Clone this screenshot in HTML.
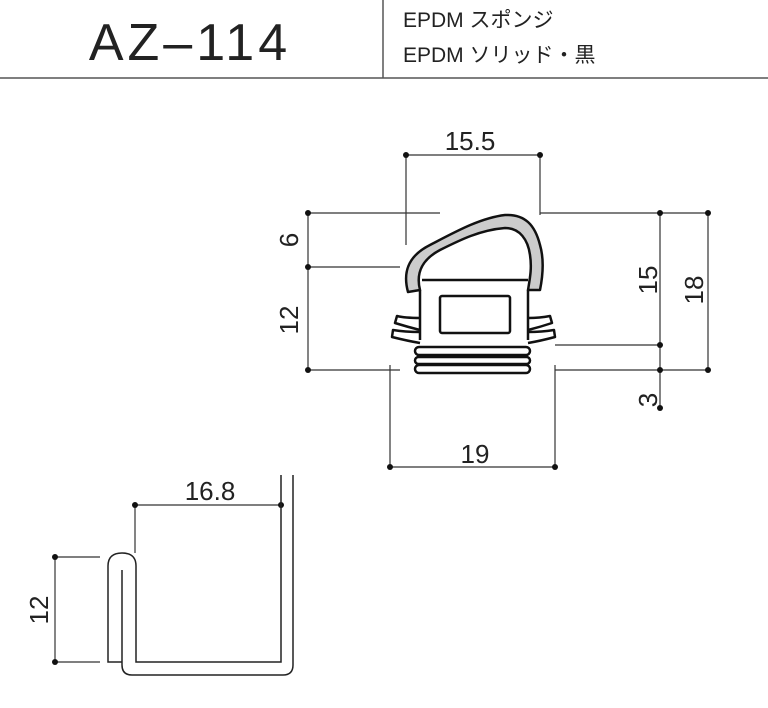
<!DOCTYPE html>
<html><head><meta charset="utf-8"><style>
body{margin:0;background:#fff;}
svg{display:block}
text{font-family:"Liberation Sans","Noto Sans CJK JP",sans-serif;fill:#222}
</style></head><body>
<svg width="768" height="708" viewBox="0 0 768 708" xmlns="http://www.w3.org/2000/svg">
<line x1="0" y1="78" x2="768" y2="78" stroke="#555" stroke-width="1.5"/>
<line x1="383" y1="0" x2="383" y2="78" stroke="#555" stroke-width="1.5"/>
<text x="190" y="60" font-size="52" text-anchor="middle" letter-spacing="4">AZ–114</text>
<text x="403" y="27" font-size="21">EPDM スポンジ</text>
<text x="403" y="62" font-size="21">EPDM ソリッド・黒</text>

<g stroke="#333" stroke-width="1.2" fill="none">
<line x1="406" y1="155" x2="406" y2="245"/><line x1="540" y1="155" x2="540" y2="215"/>
<line x1="406" y1="155" x2="540" y2="155"/>
<line x1="308" y1="213" x2="308" y2="370"/>
<line x1="308" y1="213" x2="440" y2="213"/>
<line x1="308" y1="267" x2="400" y2="267"/>
<line x1="308" y1="370" x2="400" y2="370"/>
<line x1="660" y1="213" x2="660" y2="408"/><line x1="708" y1="213" x2="708" y2="370"/>
<line x1="540" y1="213" x2="708" y2="213"/>
<line x1="555" y1="345" x2="660" y2="345"/>
<line x1="555" y1="370" x2="708" y2="370"/>
<line x1="390" y1="365" x2="390" y2="467"/><line x1="555" y1="365" x2="555" y2="467"/>
<line x1="390" y1="467" x2="555" y2="467"/>
<line x1="135" y1="505" x2="135" y2="553"/><line x1="135" y1="505" x2="281" y2="505"/>
<line x1="55" y1="557" x2="55" y2="662"/>
<line x1="55" y1="557" x2="100" y2="557"/><line x1="55" y1="662" x2="100" y2="662"/>
</g>
<g fill="#111">
<circle cx="406" cy="155" r="3"/><circle cx="540" cy="155" r="3"/>
<circle cx="308" cy="213" r="3"/><circle cx="308" cy="267" r="3"/><circle cx="308" cy="370" r="3"/>
<circle cx="660" cy="213" r="3"/><circle cx="708" cy="213" r="3"/><circle cx="660" cy="345" r="3"/>
<circle cx="660" cy="370" r="3"/><circle cx="708" cy="370" r="3"/><circle cx="660" cy="408" r="3"/>
<circle cx="390" cy="467" r="3"/><circle cx="555" cy="467" r="3"/>
<circle cx="135" cy="505" r="3"/><circle cx="281" cy="505" r="3"/>
<circle cx="55" cy="557" r="3"/><circle cx="55" cy="662" r="3"/>
</g>
<g font-size="26">
<text x="470" y="150" text-anchor="middle">15.5</text>
<text x="475" y="463" text-anchor="middle">19</text>
<text x="210" y="500" text-anchor="middle">16.8</text>
<text transform="translate(298,240) rotate(-90)" text-anchor="middle">6</text>
<text transform="translate(298,320) rotate(-90)" text-anchor="middle">12</text>
<text transform="translate(657,280) rotate(-90)" text-anchor="middle">15</text>
<text transform="translate(703,290) rotate(-90)" text-anchor="middle">18</text>
<text transform="translate(657,400) rotate(-90)" text-anchor="middle">3</text>
<text transform="translate(48,610) rotate(-90)" text-anchor="middle">12</text>
</g>

<g stroke="#111" stroke-width="2.5" fill="none" stroke-linejoin="round">
<path d="M408,292 C402,270 410,255 430,245 C455,232 480,218 505,215 C525,214 535,225 540,245 C545,262 542,280 540,290 L528,290 C530,278 532,268 530,255 C528,240 520,228 505,228 C480,230 460,240 440,250 C425,258 415,270 420,290 Z" fill="#ccc"/>
<line x1="422" y1="280" x2="528" y2="280"/>
<path d="M420,290 L420,340 M528,290 L528,340"/>
<rect x="440" y="296" width="70" height="37" rx="2"/>
<path d="M420,318 Q405,318 397,316 L395,323 Q408,327 420,330"/>
<path d="M420,332 Q405,332 393,330 L392,337 Q408,341 420,343"/>
<path d="M528,318 Q540,318 550,316 L552,323 Q540,327 528,330"/>
<path d="M528,332 Q542,332 554,330 L555,337 Q540,341 528,343"/>
<rect x="415" y="347" width="115" height="8" rx="4"/>
<rect x="415" y="357" width="115" height="7" rx="3.5"/>
<rect x="415" y="365" width="115" height="8" rx="4"/>
</g>

<g stroke="#222" stroke-width="1.5" fill="none">
<path d="M293,475 L293,665 Q293,675 283,675 L132,675 Q122,675 122,665 L122,570"/>
<path d="M281,475 L281,662 L136,662 L136,566 Q136,553 122,553 Q108,553 108,566 L108,662 L122,662"/>
</g>
</svg>
</body></html>
